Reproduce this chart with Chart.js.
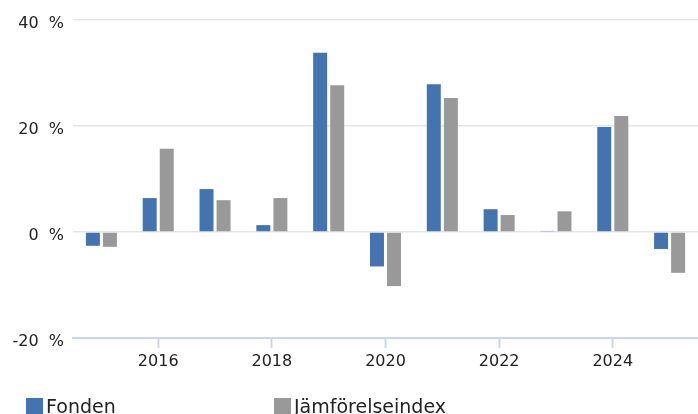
<!DOCTYPE html>
<html>
<head>
<meta charset="utf-8">
<script src="https://cdn.jsdelivr.net/npm/chart.js@4/dist/chart.umd.min.js"></script>
<style>
  body { margin: 0; background: #fff; }
  #wrap { position: relative; width: 698px; height: 414px; overflow: hidden; }
  #legend { position: absolute; left: 0; top: 395px; font-family: "DejaVu Sans", sans-serif; font-size: 19px; color: #222; }
  .item { position: absolute; white-space: nowrap; line-height: 22px; }
  .box { display: inline-block; width: 17px; height: 17px; vertical-align: -2px; margin-right: 3px; }
</style>
</head>
<body>
<div id="wrap">
  <canvas id="chart" width="698" height="414"></canvas>
  <div id="legend"></div>
</div>
<script>
const years = ['2015', '2016', '2017', '2018', '2019', '2020', '2021', '2022', '2023', '2024', '2025'];
const fonden = [-2.6, 6.4, 8.1, 1.3, 33.8, -6.5, 27.9, 4.3, 0.2, 19.8, -3.2];
const index = [-2.8, 15.7, 6.0, 6.4, 27.7, -10.2, 25.3, 3.2, 3.9, 21.9, -7.7];
const seriesNames = ['Fonden', 'Jämförelseindex'];
const colors = ['#4374b0', '#999999'];

const ctx = document.getElementById('chart').getContext('2d');
const font = { family: '"DejaVu Sans", sans-serif', size: 16 };

new Chart(ctx, {
    type: 'bar',
    data: {
        labels: years,
        datasets: [
            { label: seriesNames[0], data: fonden, backgroundColor: colors[0] },
            { label: seriesNames[1], data: index, backgroundColor: colors[1] }
        ]
    },
    options: {
        responsive: false,
        animation: false,
        categoryPercentage: 0.6,
        barPercentage: 0.82,
        layout: { padding: { top: 20, right: 0, left: 0, bottom: 0 } },
        scales: {
            x: {
                grid: {
                    offset: false,
                    drawOnChartArea: false,
                    tickLength: 10,
                    tickWidth: 2,
                    tickColor: c => (c.index % 2 === 1 ? '#ccd6eb' : 'rgba(0,0,0,0)')
                },
                border: { color: '#ccd6eb', width: 2 },
                ticks: {
                    autoSkip: false,
                    maxRotation: 0,
                    padding: 4,
                    color: '#222',
                    font: font,
                    callback: function (v, i) { return i % 2 === 1 ? this.getLabelForValue(v) : ''; }
                },
                afterFit: s => { s.height = 76; }
            },
            y: {
                min: -20,
                max: 40,
                grid: { color: '#e6e6e6', lineWidth: 1.5, drawTicks: false },
                border: { display: false },
                ticks: {
                    stepSize: 20,
                    padding: 9,
                    labelOffset: 4,
                    color: '#222',
                    font: font,
                    callback: v => v + '  %'
                },
                afterFit: s => { s.width = 73; }
            }
        },
        plugins: {
            legend: { display: false },
            tooltip: { enabled: false }
        }
    }
});

// legend below the plot
const legend = document.getElementById('legend');
const legendX = [26, 274];
seriesNames.forEach((name, i) => {
    const item = document.createElement('div');
    item.className = 'item';
    item.style.left = legendX[i] + 'px';
    item.innerHTML = '<span class="box" style="background:' + colors[i] + '"></span>' + name;
    legend.appendChild(item);
});
</script>
</body>
</html>
